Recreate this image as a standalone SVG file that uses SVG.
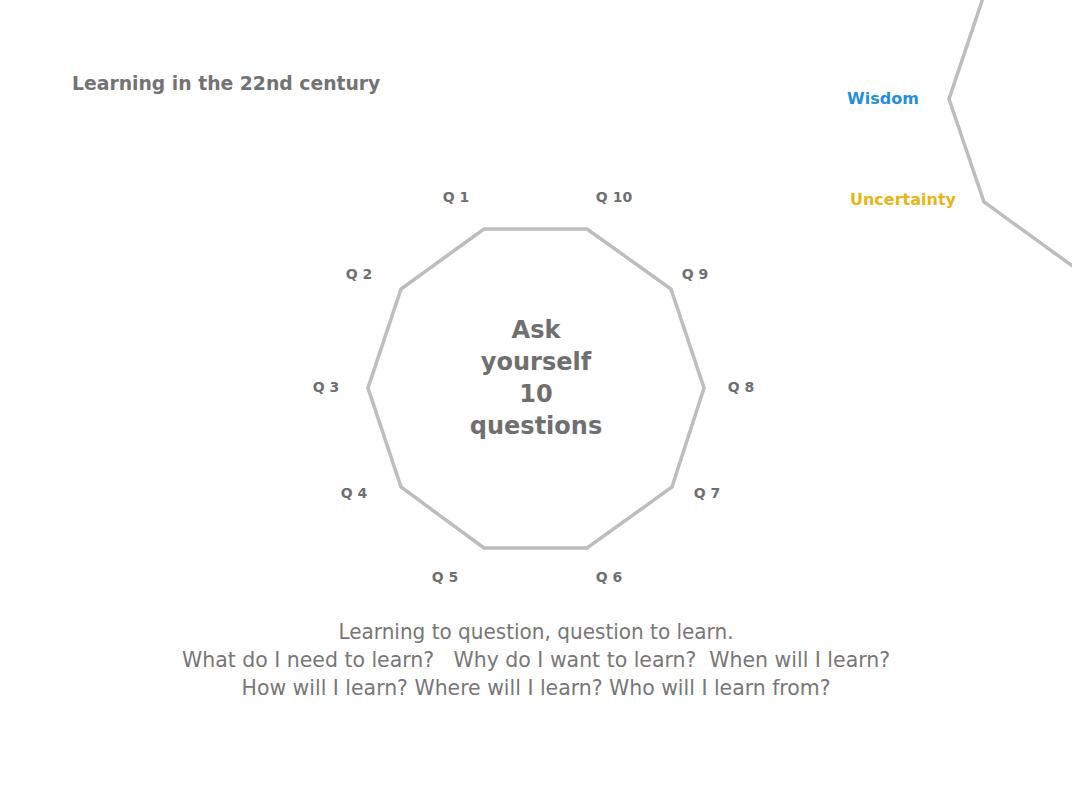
<svg xmlns="http://www.w3.org/2000/svg" width="1072" height="786" viewBox="0 0 1072 786">
<style>
.title{font-family:"DejaVu Sans",Verdana,sans-serif;font-weight:bold;font-size:18.8px;fill:#737373}
.q{font-family:"DejaVu Sans",Verdana,sans-serif;font-weight:bold;font-size:14px;fill:#6f6f6f;text-anchor:middle}
.center{font-family:"DejaVu Sans",Verdana,sans-serif;font-weight:bold;font-size:24px;fill:#6f6f6f;text-anchor:middle}
.kw{font-family:"DejaVu Sans",Verdana,sans-serif;font-weight:bold;font-size:16px;text-anchor:middle}
.body{font-family:"DejaVu Sans Condensed","Liberation Sans",sans-serif;font-size:21px;fill:#777;text-anchor:middle}
.shape{fill:none;stroke:#bdbdbd;stroke-width:3.5;stroke-linejoin:miter}
</style>
<rect width="1072" height="786" fill="#fff"/>
<text class="title" x="72" y="90">Learning in the 22nd century</text>
<g id="decagon">
<polygon class="shape" points="484,229 587,229 671,289 704,388 672,487 587,548 484,548 401,487 368,388 401,289"/>
<text class="center" x="536" y="338">Ask</text>
<text class="center" x="536" y="370">yourself</text>
<text class="center" x="536" y="402">10</text>
<text class="center" x="536" y="434">questions</text>
</g>
<g id="labels">
<text class="q" x="456" y="202">Q 1</text>
<text class="q" x="614" y="202">Q 10</text>
<text class="q" x="359" y="279">Q 2</text>
<text class="q" x="695" y="279">Q 9</text>
<text class="q" x="326" y="392">Q 3</text>
<text class="q" x="741" y="392">Q 8</text>
<text class="q" x="354" y="498">Q 4</text>
<text class="q" x="707" y="498">Q 7</text>
<text class="q" x="445" y="582">Q 5</text>
<text class="q" x="609" y="582">Q 6</text>
</g>
<g id="outer">
<polyline class="shape" points="983,-2 949,99 984,202 1074,267"/>
<text class="kw" x="883" y="104" fill="#1f8fe0">Wisdom</text>
<text class="kw" x="903" y="205" fill="#e9b511">Uncertainty</text>
</g>
<g id="caption">
<text class="body" x="536" y="639" textLength="395" lengthAdjust="spacingAndGlyphs">Learning to question, question to learn.</text>
<text class="body" x="536" y="667" xml:space="preserve" textLength="708" lengthAdjust="spacingAndGlyphs">What do I need to learn?   Why do I want to learn?  When will I learn?</text>
<text class="body" x="536" y="695" textLength="589" lengthAdjust="spacingAndGlyphs">How will I learn? Where will I learn? Who will I learn from?</text>
</g>
</svg>
